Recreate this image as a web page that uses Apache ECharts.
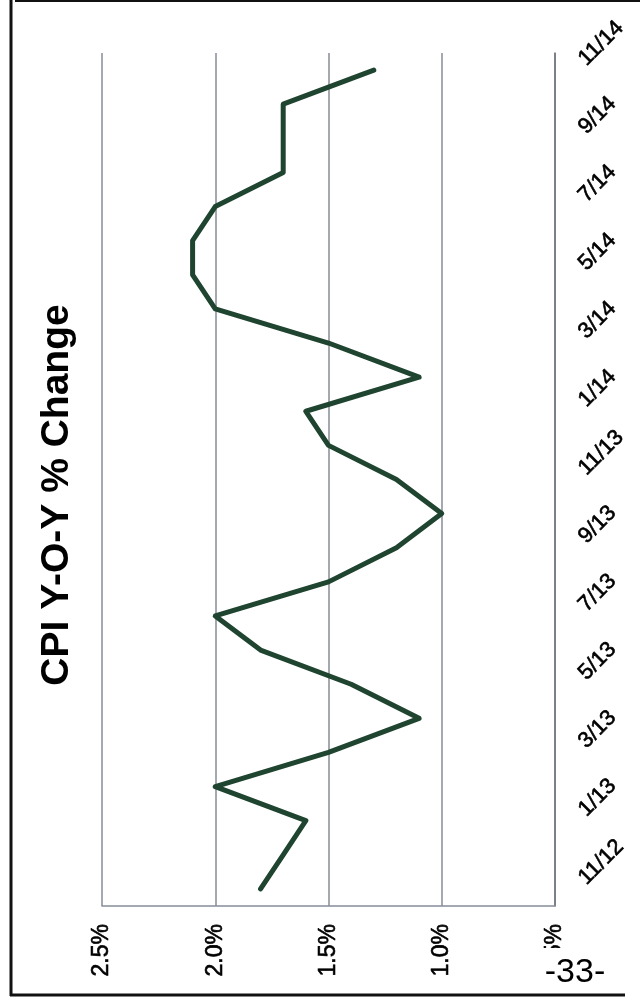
<!DOCTYPE html>
<html>
<head>
<meta charset="utf-8">
<style>
  html, body { margin: 0; padding: 0; background: #fff; }
  #chart { width: 640px; height: 1000px; }
</style>
<script src="https://cdn.jsdelivr.net/npm/echarts@6/dist/echarts.min.js"></script>
</head>
<body>
<div id="chart"></div>
<script>
// Monthly categories, Nov 2012 through Nov 2014
const months = [
  '11/12', '12/12',
  '1/13', '2/13', '3/13', '4/13', '5/13', '6/13', '7/13', '8/13', '9/13', '10/13', '11/13', '12/13',
  '1/14', '2/14', '3/14', '4/14', '5/14', '6/14', '7/14', '8/14', '9/14', '10/14', '11/14'
];

// CPI year-over-year change, percent
const cpiYoY = [
  1.8, 1.7,
  1.6, 2.0, 1.5, 1.1, 1.4, 1.8, 2.0, 1.5, 1.2, 1.0, 1.2, 1.5,
  1.6, 1.1, 1.5, 2.0, 2.1, 2.1, 2.0, 1.7, 1.7, 1.7, 1.3
];

// Value-axis range and step
const valueMin = 0.5;
const valueMax = 2.5;
const valueStep = 0.5;

const titleText = 'CPI Y-O-Y % Change';
const pageText = '-33-';

const gridColor = '#868c96';
const lineColor = '#1f4430';
const fontFamily = '"Liberation Sans", Arial, sans-serif';

// Slightly heavier strokes for the axis label text
const labelInk = { color: '#000', textBorderColor: '#000', textBorderWidth: 0.6 };

const chart = echarts.init(document.getElementById('chart'), null, { renderer: 'canvas' });

chart.setOption({
  animation: false,
  backgroundColor: '#ffffff',
  grid: { left: 102, right: 85, top: 53, bottom: 94, containLabel: false },
  xAxis: {
    type: 'value',
    inverse: true,
    min: valueMin,
    max: valueMax,
    interval: valueStep,
    axisLine: { show: true, lineStyle: { color: gridColor, width: 1.5 } },
    axisTick: { show: false },
    splitLine: { show: true, lineStyle: { color: gridColor, width: 1.5 } },
    axisLabel: Object.assign({
      rotate: 90,
      margin: 18,
      fontFamily: fontFamily,
      fontSize: 23,
      formatter: v => v.toFixed(1) + '%'
    }, labelInk)
  },
  yAxis: {
    type: 'category',
    position: 'right',
    data: months,
    boundaryGap: true,
    axisLine: { show: true, lineStyle: { color: '#6f747c', width: 1.5 } },
    axisTick: { show: false },
    splitLine: { show: false },
    axisLabel: Object.assign({
      interval: 1,
      rotate: 45,
      margin: 35,
      verticalAlign: 'bottom',
      fontFamily: fontFamily,
      fontSize: 22
    }, labelInk)
  },
  series: [{
    type: 'line',
    data: cpiYoY,
    showSymbol: false,
    symbol: 'none',
    lineStyle: { color: lineColor, width: 5, join: 'round', cap: 'round' }
  }],
  graphic: [
    // Chart title, reading upward along the left margin
    {
      type: 'text',
      x: 57,
      y: 495,
      rotation: Math.PI / 2,
      style: {
        text: titleText,
        x: 0, y: 0,
        align: 'center',
        verticalAlign: 'middle',
        fontFamily: fontFamily,
        fontWeight: 'bold',
        fontSize: 39,
        fill: '#000'
      }
    },
    // Page number with its white backing box
    {
      type: 'rect',
      shape: { x: 535, y: 948, width: 80, height: 44 },
      style: { fill: '#ffffff' },
      z: 100
    },
    {
      type: 'text',
      x: 575,
      y: 973,
      style: {
        text: pageText,
        x: 0, y: 0,
        align: 'center',
        verticalAlign: 'middle',
        fontFamily: '"Liberation Sans Narrow", "Liberation Sans", Arial, sans-serif',
        fontSize: 34,
        fill: '#000'
      },
      z: 101
    },
    // Page frame
    {
      type: 'line',
      shape: { x1: 11, y1: 0, x2: 11, y2: 996 },
      style: { stroke: '#111', lineWidth: 3 },
      z: 102
    },
    {
      type: 'line',
      shape: { x1: 10, y1: 995, x2: 625, y2: 995 },
      style: { stroke: '#111', lineWidth: 3 },
      z: 102
    },
    {
      type: 'line',
      shape: { x1: 15, y1: 1, x2: 640, y2: 1 },
      style: { stroke: '#111', lineWidth: 2 },
      z: 102
    }
  ]
});
</script>
</body>
</html>
